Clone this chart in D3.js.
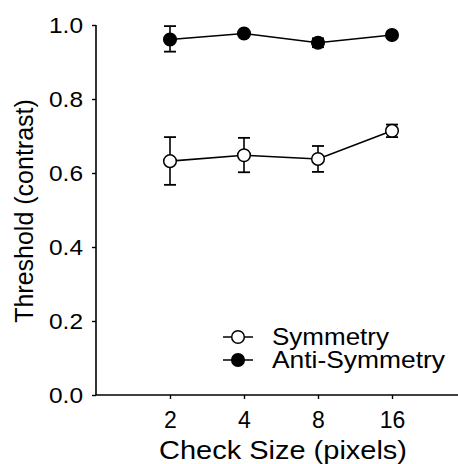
<!DOCTYPE html>
<html>
<head>
<meta charset="utf-8">
<script src="https://cdn.jsdelivr.net/npm/d3@7"></script>
<style>
  body { margin: 0; background: #fff; }
  text { font-family: "Liberation Sans", Arial, sans-serif; fill: #000; }
</style>
</head>
<body>
<svg id="chart" width="458" height="464"></svg>
<script>
// check sizes (pixels)
var checkSizes = [2, 4, 8, 16];
// Symmetry thresholds, with upper/lower error bar ends
var symMean = [0.632, 0.648, 0.638, 0.714];
var symHi   = [0.697, 0.695, 0.673, 0.731];
var symLo   = [0.568, 0.602, 0.603, 0.697];
// Anti-Symmetry thresholds
var antiMean = [0.961, 0.977, 0.952, 0.973];
var antiHi   = [0.997, 0.982, 0.964, 0.977];
var antiLo   = [0.928, 0.972, 0.940, 0.969];
var yTicks = [0, 0.2, 0.4, 0.6, 0.8, 1.0];

var svg = d3.select("#chart");

var x = d3.scaleLog().base(2).domain([1, 32]).range([96, 466]);
var y = d3.scaleLinear().domain([0, 1]).range([395, 25]);

// axes
var yAxis = d3.axisLeft(y).tickValues(yTicks).tickSize(4).tickPadding(9)
    .tickFormat(d3.format(".1f"));
var gy = svg.append("g").attr("transform", "translate(96,0)").call(yAxis);
gy.select(".domain").attr("stroke-width", 1.6).attr("d", "M0," + y(1) + "V" + y(0));
gy.selectAll(".tick line").attr("stroke-width", 1.4);
gy.selectAll(".tick text").style("font-size", "22px").attr("dy", "0.36em")
    .attr("textLength", 34).attr("lengthAdjust", "spacingAndGlyphs");

var xAxis = d3.axisBottom(x).tickValues(checkSizes).tickSize(4).tickPadding(13)
    .tickFormat(d3.format("d"));
var gx = svg.append("g").attr("transform", "translate(0,395)").call(xAxis);
gx.select(".domain").attr("stroke-width", 1.6).attr("d", "M96,0H466");
gx.selectAll(".tick line").attr("stroke-width", 1.4);
gx.selectAll(".tick text").style("font-size", "23px");

// axis titles
svg.append("text")
    .attr("transform", "translate(33," + 211 + ") rotate(-90)")
    .attr("text-anchor", "middle")
    .style("font-size", "25px")
    .text("Threshold (contrast)");
svg.append("text")
    .attr("x", 283).attr("y", 459)
    .attr("text-anchor", "middle")
    .style("font-size", "25px")
    .attr("textLength", 248).attr("lengthAdjust", "spacingAndGlyphs")
    .text("Check Size (pixels)");

function drawSeries(mean, hi, lo, filled) {
  var g = svg.append("g");
  var line = d3.line().x(function(d, i) { return x(checkSizes[i]); }).y(function(d) { return y(d); });
  g.append("path").datum(mean).attr("d", line)
      .attr("fill", "none").attr("stroke", "#000").attr("stroke-width", 1.6);
  checkSizes.forEach(function(c, i) {
    var cx = x(c);
    g.append("line").attr("x1", cx).attr("x2", cx).attr("y1", y(hi[i])).attr("y2", y(lo[i]))
        .attr("stroke", "#000").attr("stroke-width", 1.6);
    [hi[i], lo[i]].forEach(function(v) {
      g.append("line").attr("x1", cx - 6).attr("x2", cx + 6).attr("y1", y(v)).attr("y2", y(v))
          .attr("stroke", "#000").attr("stroke-width", 1.8);
    });
    g.append("circle").attr("cx", cx).attr("cy", y(mean[i])).attr("r", 6.3)
        .attr("fill", filled ? "#000" : "#fff").attr("stroke", "#000").attr("stroke-width", 1.5);
  });
}
drawSeries(symMean, symHi, symLo, false);
drawSeries(antiMean, antiHi, antiLo, true);

// legend
var legend = [
  {name: "Symmetry", filled: false, y: 337, len: 117},
  {name: "Anti-Symmetry", filled: true, y: 360, len: 173}
];
legend.forEach(function(l) {
  svg.append("line").attr("x1", 223).attr("x2", 253).attr("y1", l.y).attr("y2", l.y)
      .attr("stroke", "#000").attr("stroke-width", 1.5);
  svg.append("circle").attr("cx", 238).attr("cy", l.y).attr("r", 6.3)
      .attr("fill", l.filled ? "#000" : "#fff").attr("stroke", "#000").attr("stroke-width", 1.5);
  svg.append("text").attr("x", 272).attr("y", l.y + 8).style("font-size", "24px")
      .attr("textLength", l.len).attr("lengthAdjust", "spacingAndGlyphs").text(l.name);
});
</script>
</body>
</html>
